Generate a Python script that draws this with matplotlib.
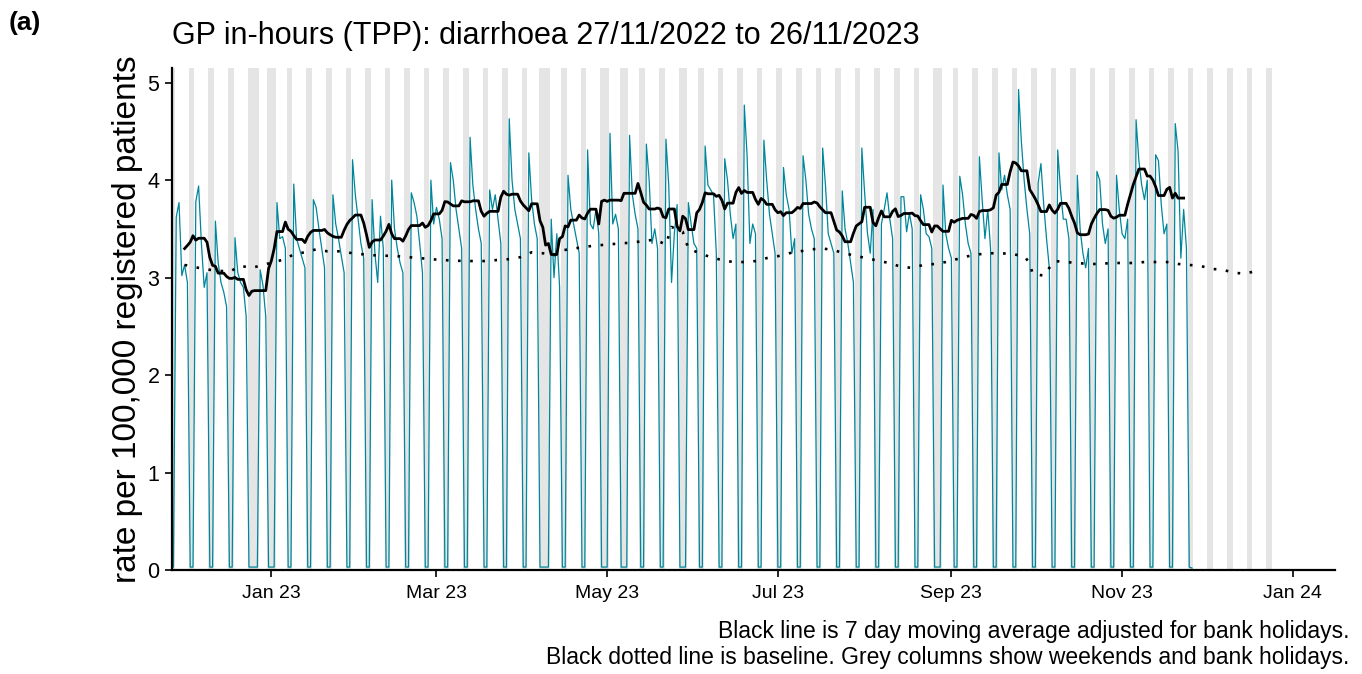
import numpy as np
import pandas as pd
import matplotlib
matplotlib.use('Agg')
from matplotlib import pyplot as plt
import matplotlib.dates as mdates

plt.rcParams['font.family'] = ['Liberation Sans', 'DejaVu Sans']

start = pd.Timestamp('2022-11-27')

# daily rate per 100,000 registered patients, one row per week (Sun .. Sat)
weeks = [
    [0.03, 3.62, 3.77, 3.02, 3.13, 2.95, 0.03],
    [0.03, 3.78, 3.94, 3.35, 2.90, 3.05, 0.03],
    [0.03, 3.58, 3.15, 2.95, 2.85, 2.70, 0.03],
    [0.03, 3.41, 3.05, 2.95, 2.90, 2.60, 0.03],
    [0.03, 0.03, 0.03, 3.08, 2.92, 2.60, 0.03],
    [0.03, 0.03, 3.77, 3.40, 3.42, 3.30, 0.03],
    [0.03, 3.96, 3.40, 3.30, 3.20, 3.10, 0.03],
    [0.03, 3.80, 3.72, 3.50, 3.30, 3.10, 0.03],
    [0.03, 3.85, 3.55, 3.40, 3.22, 3.05, 0.03],
    [0.03, 4.21, 3.85, 3.60, 3.35, 3.20, 0.03],
    [0.03, 3.80, 3.25, 2.95, 3.63, 3.30, 0.03],
    [0.03, 4.00, 3.50, 3.30, 3.15, 3.05, 0.03],
    [0.03, 3.87, 3.77, 3.63, 3.35, 3.05, 0.03],
    [0.03, 4.00, 3.55, 3.72, 3.60, 3.40, 0.03],
    [0.03, 4.18, 4.00, 3.70, 3.50, 3.30, 0.03],
    [0.03, 4.44, 3.95, 3.70, 3.50, 3.35, 0.03],
    [0.03, 3.90, 3.70, 3.85, 3.60, 3.35, 0.03],
    [0.03, 4.63, 4.00, 3.70, 3.55, 3.40, 0.03],
    [0.03, 4.28, 3.80, 3.55, 3.40, 0.03, 0.03],
    [0.03, 0.03, 3.60, 3.00, 3.45, 2.90, 0.03],
    [0.03, 4.05, 3.70, 3.55, 3.40, 3.25, 0.03],
    [0.03, 4.31, 3.55, 3.50, 3.70, 3.45, 0.03],
    [0.03, 0.03, 4.48, 3.55, 3.65, 3.50, 0.03],
    [0.03, 0.03, 4.46, 3.85, 3.65, 3.50, 0.03],
    [0.03, 4.37, 4.00, 3.35, 3.50, 3.30, 0.03],
    [0.03, 4.42, 3.95, 2.95, 3.45, 3.75, 0.03],
    [0.03, 0.03, 3.77, 3.55, 3.35, 3.30, 0.03],
    [0.03, 4.35, 3.95, 3.90, 3.85, 3.25, 0.03],
    [0.03, 4.22, 4.00, 3.65, 3.40, 3.55, 0.03],
    [0.03, 4.77, 4.25, 3.35, 3.55, 3.45, 0.03],
    [0.03, 4.41, 4.00, 3.65, 3.45, 3.25, 0.03],
    [0.03, 4.13, 3.85, 3.70, 3.25, 3.40, 0.03],
    [0.03, 4.25, 4.00, 3.65, 3.50, 3.40, 0.03],
    [0.03, 4.33, 3.95, 3.45, 3.35, 3.25, 0.03],
    [0.03, 3.89, 3.50, 3.35, 3.15, 2.95, 0.03],
    [0.03, 4.33, 3.87, 3.46, 3.25, 3.70, 0.03],
    [0.03, 3.55, 3.70, 3.87, 3.60, 3.40, 0.03],
    [0.03, 3.83, 3.83, 3.47, 3.66, 3.50, 0.03],
    [0.03, 3.85, 3.70, 3.45, 3.42, 3.30, 0.03],
    [0.03, 0.03, 3.95, 3.45, 3.30, 3.20, 0.03],
    [0.03, 4.04, 3.85, 3.55, 3.35, 3.25, 0.03],
    [0.03, 4.24, 3.80, 3.40, 3.70, 3.30, 0.03],
    [0.03, 4.28, 3.90, 4.05, 3.85, 3.70, 0.03],
    [0.03, 4.93, 4.40, 4.00, 3.70, 3.45, 0.03],
    [0.03, 3.97, 4.17, 3.75, 3.40, 3.10, 0.03],
    [0.03, 4.31, 3.90, 3.60, 3.60, 3.40, 0.03],
    [0.03, 4.05, 3.50, 3.25, 3.10, 3.30, 0.03],
    [0.03, 4.09, 4.00, 3.55, 3.35, 3.50, 0.03],
    [0.03, 4.05, 3.70, 3.45, 3.40, 3.60, 0.03],
    [0.03, 4.62, 4.20, 3.95, 3.80, 4.00, 0.03],
    [0.03, 4.26, 4.20, 3.75, 3.45, 3.55, 0.03],
    [0.03, 4.58, 4.30, 3.20, 3.70, 3.30, 0.03],
]
final_sunday = [0.02]

bank_holidays = ['2022-12-26', '2022-12-27', '2023-01-02', '2023-04-07', '2023-04-10',
                 '2023-05-01', '2023-05-08', '2023-05-29', '2023-08-28']

# baseline: days after 27/11/2022 and rate
baseline_day = [4, 9, 13, 20, 24, 28, 32, 36, 40, 43, 47, 51, 55, 60, 64, 71, 80, 88, 96,
                104, 111, 120, 124, 128, 132, 136, 139, 148, 155, 164, 172, 176, 178, 182,
                184, 188, 192, 196, 200, 204, 208, 212, 216, 220, 224, 228, 232, 236, 240,
                244, 248, 252, 256, 260, 264, 268, 272, 276, 280, 284, 288, 292, 296, 300,
                304, 306, 307, 311, 313, 315, 319, 323, 327, 331, 335, 339, 343, 347, 351,
                355, 359, 363, 367, 371, 375, 379, 383, 387]
baseline_val = [3.13, 3.10, 3.08, 3.06, 3.12, 3.10, 3.13, 3.16, 3.19, 3.24, 3.26, 3.29, 3.27,
                3.27, 3.25, 3.23, 3.22, 3.20, 3.18, 3.17, 3.17, 3.19, 3.21, 3.26, 3.25, 3.23,
                3.28, 3.32, 3.34, 3.36, 3.39, 3.34, 3.52, 3.47, 3.30, 3.25, 3.21, 3.18, 3.16,
                3.16, 3.17, 3.20, 3.22, 3.25, 3.27, 3.29, 3.30, 3.28, 3.25, 3.22, 3.20, 3.17,
                3.15, 3.11, 3.10, 3.13, 3.14, 3.16, 3.19, 3.22, 3.24, 3.25, 3.25, 3.24, 3.22,
                3.15, 3.04, 3.02, 3.10, 3.17, 3.16, 3.15, 3.14, 3.14, 3.15, 3.15, 3.15, 3.16,
                3.16, 3.16, 3.14, 3.13, 3.12, 3.09, 3.08, 3.05, 3.04, 3.07]

shade_end = pd.Timestamp('2023-12-24')

rate = np.array([v for row in weeks for v in row] + final_sunday)
dates = pd.date_range(start, periods=len(rate), freq='D')
bh = pd.to_datetime(bank_holidays)
open_day = (dates.dayofweek < 5) & ~dates.isin(bh)

# 7 day centred average over open days only
ma = np.full(len(rate), np.nan)
for i in range(4, len(rate) - 3):
    win = slice(i - 3, i + 4)
    ma[i] = rate[win][open_day[win]].mean()

shade_days = pd.date_range(start, shade_end, freq='D')
shade_days = shade_days[(shade_days.dayofweek >= 5) | shade_days.isin(bh)]

base_dates = start + pd.to_timedelta(baseline_day, unit='D')

fig = plt.figure(figsize=(13.62, 6.74), dpi=100)
ax = fig.add_axes([0.1263, 0.1543, 0.8537, 0.7447])

ax.bar(shade_days, 6, width=1.0, bottom=0, color='#e5e5e5', linewidth=0, zorder=0)
ax.plot(dates, rate, color='#00869b', lw=0.9, zorder=2)
ax.plot(dates, ma, color='black', lw=2.0, zorder=3)
ax.plot(base_dates, baseline_val, color='black', lw=1.9, dashes=(1, 3.6), zorder=3)

ax.set_ylim(0, 5.15)
ax.set_xlim(start - pd.Timedelta(hours=12), pd.Timestamp('2024-01-16'))
ax.set_yticks(range(6))
ax.xaxis.set_major_locator(mdates.MonthLocator(bymonth=[1, 3, 5, 7, 9, 11]))
ax.xaxis.set_major_formatter(mdates.DateFormatter('%b %y'))

for s in ['top', 'right']:
    ax.spines[s].set_visible(False)
for s in ['left', 'bottom']:
    ax.spines[s].set_linewidth(1.6)
ax.tick_params(axis='both', length=5, width=1.2, color='black')
ax.tick_params(axis='y', labelsize=15.5, pad=4)
ax.tick_params(axis='x', labelsize=14, pad=6)

ax.set_ylabel('rate per 100,000 registered patients', fontsize=24, labelpad=3)
fig.text(0.1263, 0.935, 'GP in-hours (TPP): diarrhoea 27/11/2022 to 26/11/2023',
         fontsize=22, ha='left', va='baseline')
fig.text(0.006, 0.955, '(a)', fontsize=19, fontweight='bold', ha='left', va='baseline')
fig.text(0.991, 0.008,
         'Black line is 7 day moving average adjusted for bank holidays.\n'
         'Black dotted line is baseline. Grey columns show weekends and bank holidays.',
         fontsize=16.5, ha='right', va='bottom', linespacing=1.15)

fig.savefig('out.png', dpi=100)
